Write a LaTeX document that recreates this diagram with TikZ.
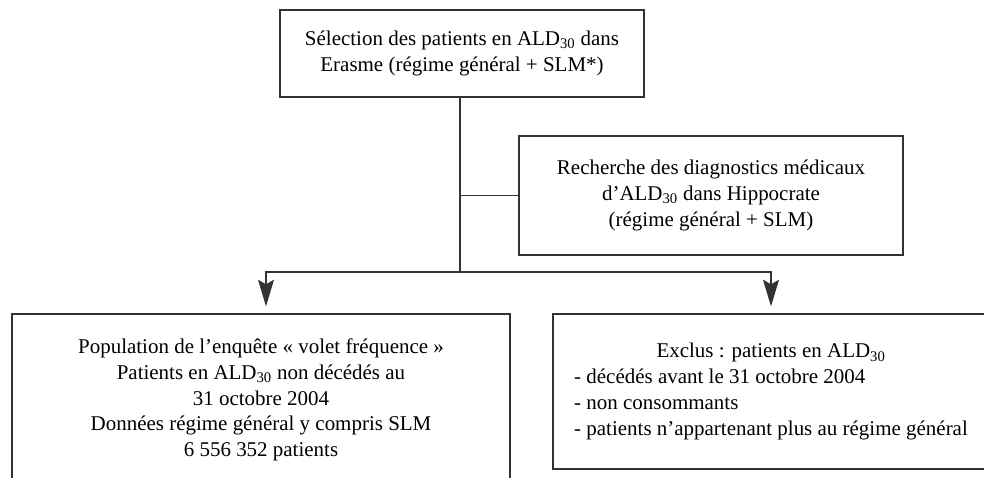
\documentclass[tikz,border=0pt]{standalone}
\usepackage{fontspec}
\setmainfont{Liberation Serif}
\usetikzlibrary{arrows.meta}
\begin{document}
\begin{tikzpicture}[x=0.03cm,y=-0.03cm,
		boite/.style={draw=black!80,line width=1.1pt,align=center,inner sep=0pt,
			font=\fontsize{17.9}{22}\selectfont},
		trait/.style={line width=1.1pt,draw=black!80},
		fleche/.style={trait,-{Stealth[length=0.8cm,width=0.48cm,inset=0.14cm]},shorten >=0.21cm}]
		\useasboundingbox (0,0) rectangle (984,478);
		\node[boite,minimum width=10.92cm,minimum height=2.61cm] (sel) at (462,53.5)
			{Sélection des patients en ALD\textsubscript{30} dans\\Erasme (régime général + SLM*)};
		\node[boite,minimum width=11.52cm,minimum height=3.57cm] (rech) at (711,195.5)
			{Recherche des diagnostics médicaux\\d’ALD\textsubscript{30} dans Hippocrate\\(régime général + SLM)};
		\node[boite,minimum width=14.94cm,minimum height=5.16cm] (popu) at (261,400)
			{Population de l’enquête « volet fréquence »\\Patients en ALD\textsubscript{30} non décédés au\\31 octobre 2004\\Données régime général y compris SLM\\6 556 352 patients};
		\node[boite,minimum width=13.08cm,minimum height=4.65cm] (excl) at (771,391.5)
			{\begin{tabular}{@{}l@{}}
				\multicolumn{1}{@{}c@{}}{Exclus : patients en ALD\textsubscript{30}}\\
				- décédés avant le 31 octobre 2004\\
				- non consommants\\
				- patients n’appartenant plus au régime général
			\end{tabular}};
		\coordinate (split) at (460,272);
		\draw[trait] (sel.south -| split) -- (split);
		\draw[trait] (split |- rech.west) -- (rech.west);
		\draw[fleche] (split) -| ([xshift=0.15cm]popu.north);
		\draw[fleche] (split) -| (excl.north);
	\end{tikzpicture}
\end{document}
